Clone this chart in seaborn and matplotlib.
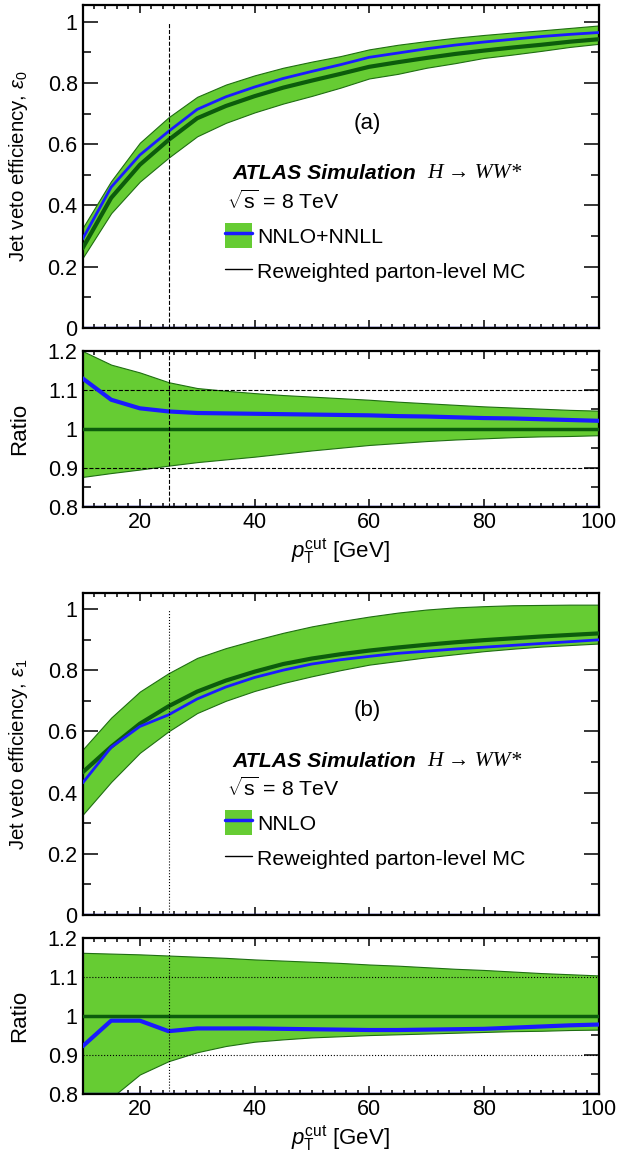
import numpy as np
import matplotlib
matplotlib.use("Agg")
import matplotlib.pyplot as plt
import seaborn as sns
from matplotlib.patches import Patch
from matplotlib.lines import Line2D
from matplotlib.ticker import MultipleLocator, FuncFormatter

# --- DATA ---
ptcut = [10, 15, 20, 25, 30, 35, 40, 45, 50, 55, 60, 65, 70, 75, 80, 85, 90, 95, 100]

# (a) 0-jet efficiency
eff0_mc = [0.26, 0.425, 0.533, 0.614, 0.685, 0.725, 0.757, 0.785, 0.808, 0.83, 0.853,
           0.868, 0.882, 0.895, 0.906, 0.916, 0.925, 0.935, 0.943]
eff0_nnll = [0.29, 0.46, 0.565, 0.642, 0.714, 0.755, 0.787, 0.815, 0.838, 0.86, 0.884,
             0.898, 0.912, 0.924, 0.934, 0.943, 0.952, 0.959, 0.965]
eff0_hi = [0.326, 0.48, 0.605, 0.688, 0.755, 0.795, 0.825, 0.85, 0.87, 0.888, 0.91,
           0.925, 0.937, 0.948, 0.957, 0.965, 0.972, 0.98, 0.988]
eff0_lo = [0.228, 0.375, 0.478, 0.556, 0.626, 0.67, 0.704, 0.733, 0.758, 0.785, 0.815,
           0.83, 0.85, 0.865, 0.882, 0.893, 0.905, 0.918, 0.928]
ratio0_nnll = [1.13, 1.075, 1.053, 1.045, 1.041, 1.04, 1.039, 1.038, 1.037, 1.036, 1.035,
               1.033, 1.032, 1.030, 1.028, 1.027, 1.025, 1.023, 1.021]
ratio0_hi = [1.2, 1.165, 1.145, 1.12, 1.105, 1.098, 1.092, 1.087, 1.083, 1.079, 1.075,
             1.07, 1.066, 1.062, 1.058, 1.055, 1.052, 1.049, 1.047]
ratio0_lo = [0.877, 0.887, 0.896, 0.906, 0.915, 0.922, 0.929, 0.937, 0.945, 0.952, 0.959,
             0.964, 0.969, 0.973, 0.976, 0.979, 0.981, 0.982, 0.984]

# (b) 1-jet efficiency
eff1_mc = [0.466, 0.55, 0.625, 0.682, 0.73, 0.766, 0.795, 0.82, 0.838, 0.852, 0.864,
           0.874, 0.883, 0.891, 0.898, 0.904, 0.91, 0.915, 0.92]
eff1_nnlo = [0.431, 0.548, 0.616, 0.654, 0.706, 0.745, 0.776, 0.8, 0.82, 0.834, 0.845,
             0.855, 0.862, 0.869, 0.875, 0.881, 0.887, 0.893, 0.899]
eff1_hi = [0.54, 0.645, 0.73, 0.79, 0.84, 0.872, 0.898, 0.922, 0.943, 0.96, 0.975,
           0.988, 0.998, 1.005, 1.009, 1.012, 1.013, 1.014, 1.014]
eff1_lo = [0.327, 0.435, 0.53, 0.6, 0.66, 0.7, 0.732, 0.758, 0.78, 0.8, 0.818,
           0.83, 0.842, 0.852, 0.862, 0.87, 0.877, 0.882, 0.887]
ratio1_nnlo = [0.922, 0.988, 0.988, 0.961, 0.968, 0.968, 0.968, 0.967, 0.966, 0.965, 0.964,
               0.964, 0.965, 0.966, 0.967, 0.970, 0.973, 0.976, 0.978]
ratio1_hi = [1.162, 1.16, 1.158, 1.155, 1.152, 1.149, 1.145, 1.142, 1.139, 1.136, 1.132,
             1.129, 1.125, 1.121, 1.118, 1.114, 1.11, 1.107, 1.104]
ratio1_lo = [0.70, 0.79, 0.85, 0.884, 0.907, 0.923, 0.934, 0.94, 0.945, 0.948, 0.951,
             0.953, 0.955, 0.957, 0.959, 0.961, 0.962, 0.964, 0.965]

BAND = '#66cc33'
BAND_EDGE = '#1f6e12'
MC_COL = '#0c5c0c'
BLUE = '#1a1aff'

sns.set_style("ticks")
plt.rcParams['font.family'] = ['Liberation Sans', 'DejaVu Sans']
plt.rcParams['mathtext.fontset'] = 'custom'
plt.rcParams['mathtext.rm'] = 'Liberation Sans'
plt.rcParams['mathtext.it'] = 'Liberation Sans:italic'
plt.rcParams['mathtext.bf'] = 'Liberation Sans:bold'
plt.rcParams['text.color'] = 'black'
plt.rcParams['axes.labelcolor'] = 'black'
plt.rcParams['xtick.color'] = 'black'
plt.rcParams['ytick.color'] = 'black'

fmt = FuncFormatter(lambda v, p: f"{round(v, 2):g}")


def style_axis(ax, ymajor, yminor):
    ax.set_xlim(10, 100)
    ax.xaxis.set_major_locator(MultipleLocator(20))
    ax.xaxis.set_minor_locator(MultipleLocator(2))
    ax.yaxis.set_major_locator(MultipleLocator(ymajor))
    ax.yaxis.set_minor_locator(MultipleLocator(yminor))
    ax.yaxis.set_major_formatter(fmt)
    ax.tick_params(axis='both', which='both', direction='in', top=True, right=True,
                   labelsize=15.5, width=1.1, colors='black')
    ax.tick_params(axis='y', which='major', length=11)
    ax.tick_params(axis='y', which='minor', length=5.5)
    ax.tick_params(axis='x', which='major', length=6)
    ax.tick_params(axis='x', which='minor', length=3)
    for s in ax.spines.values():
        s.set_linewidth(1.6)
        s.set_color('black')
    ax.yaxis.set_label_coords(-0.102, 0.5)
    ax.grid(False)


def draw_pair(ax, axr, mc, nom, lo, hi, r_nom, r_lo, r_hi, ymax, eps, tag, nom_label, ls):
    # main panel
    ax.fill_between(ptcut, lo, hi, color=BAND, edgecolor=BAND_EDGE, lw=0.8, zorder=1)
    sns.lineplot(x=ptcut, y=mc, ax=ax, color=MC_COL, lw=3, zorder=3)
    sns.lineplot(x=ptcut, y=nom, ax=ax, color=BLUE, lw=2, zorder=4)
    ax.vlines(25, 0, 1, colors='black', lw=0.8, linestyles=ls, zorder=5)
    ax.set_ylim(0, ymax)
    ax.axhline(0, color='#2a2ab8', lw=2.5, zorder=2)
    style_axis(ax, 0.2, 0.1)
    ax.tick_params(axis='x', labelbottom=False)
    ax.set_xlabel('')
    ax.set_ylabel(r'Jet veto efficiency, $\epsilon_' + eps + '$', fontsize=14.7)

    ax.text(59.7, 0.668, tag, fontsize=16, ha='center', va='center')
    ax.text(36.1, 0.503, 'ATLAS Simulation', fontsize=15.3, fontweight='bold',
            style='italic', ha='left', va='center')
    ax.text(70.1, 0.503, 'H → WW*', fontsize=15.5, style='italic',
            family=['Liberation Serif', 'DejaVu Serif'], ha='left', va='center')
    ax.text(35.2, 0.413, r'$\sqrt{\mathrm{s}}$ = 8 TeV', fontsize=15.3, ha='left', va='center')

    handles = [(Patch(facecolor=BAND, edgecolor='none'), Line2D([], [], color=BLUE, lw=2.5)),
               Line2D([], [], color='black', lw=1)]
    ax.legend(handles=handles, labels=[nom_label, 'Reweighted parton-level MC'],
              loc='upper left', bbox_to_anchor=(34.85, 0.342), bbox_transform=ax.transData,
              frameon=False, fontsize=15.3, handlelength=1.27, handleheight=1.44,
              labelspacing=0.49, handletextpad=0.25, borderpad=0, borderaxespad=0)

    # ratio panel
    axr.fill_between(ptcut, r_lo, r_hi, color=BAND, edgecolor=BAND_EDGE, lw=0.8, zorder=1)
    axr.axhline(1, color=MC_COL, lw=2.5, zorder=3)
    sns.lineplot(x=ptcut, y=r_nom, ax=axr, color=BLUE, lw=3, zorder=4)
    for yv in (0.9, 1.1):
        axr.axhline(yv, color='black', lw=0.8, ls=ls, zorder=2)
    axr.axvline(25, color='black', lw=0.8, ls=ls, zorder=5)
    axr.set_ylim(0.8, 1.2)
    axr.axhline(0.8, color='#2a2ab8', lw=2.5, zorder=2)
    style_axis(axr, 0.1, 0.05)
    axr.set_ylabel('Ratio', fontsize=16)
    axr.set_xlabel(r'$p_{\mathrm{T}}^{\mathrm{cut}}$ [GeV]', fontsize=16, labelpad=2)


fig = plt.figure(figsize=(6.18, 11.58), dpi=100)
left, width = 0.1335, 0.835
ax_a = fig.add_axes([left, 0.7168, width, 0.2789])
ax_ar = fig.add_axes([left, 0.5622, width, 0.1347])
ax_b = fig.add_axes([left, 0.2098, width, 0.2781])
ax_br = fig.add_axes([left, 0.0553, width, 0.1347])

draw_pair(ax_a, ax_ar, eff0_mc, eff0_nnll, eff0_lo, eff0_hi,
          ratio0_nnll, ratio0_lo, ratio0_hi, 1.055, '0', '(a)', 'NNLO+NNLL', '--')
draw_pair(ax_b, ax_br, eff1_mc, eff1_nnlo, eff1_lo, eff1_hi,
          ratio1_nnlo, ratio1_lo, ratio1_hi, 1.052, '1', '(b)', 'NNLO', ':')

fig.savefig('out.png', dpi=100)
